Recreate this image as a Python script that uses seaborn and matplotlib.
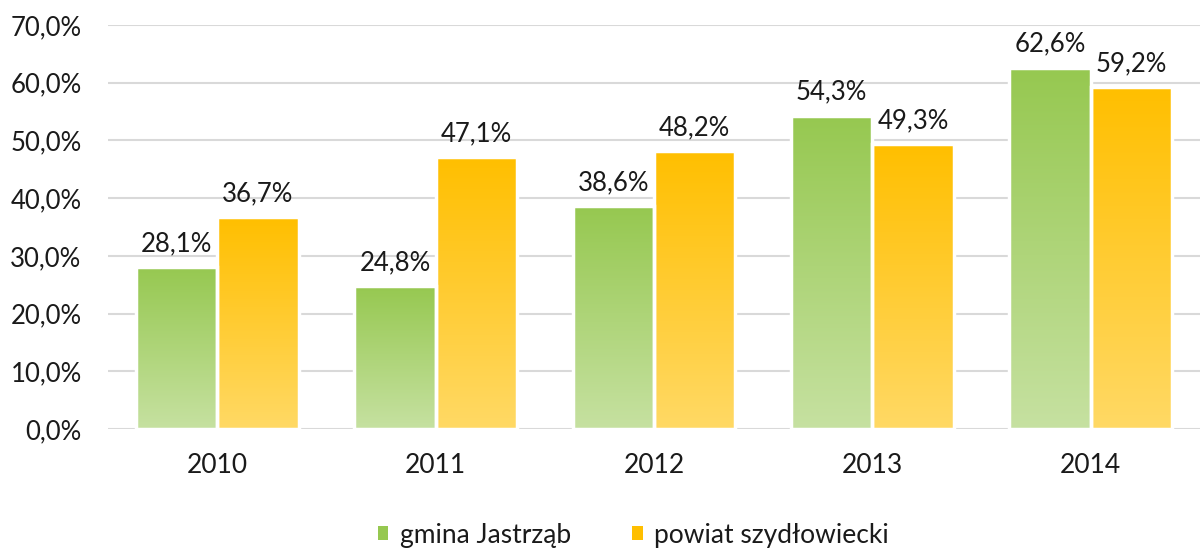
import numpy as np
import pandas as pd
import matplotlib
matplotlib.use("Agg")
import matplotlib.pyplot as plt
import seaborn as sns
from matplotlib.colors import LinearSegmentedColormap
from matplotlib.patches import Patch

years = ["2010", "2011", "2012", "2013", "2014"]
gmina = [28.1, 24.8, 38.6, 54.3, 62.6]
powiat = [36.7, 47.1, 48.2, 49.3, 59.2]
series_names = ["gmina Jastrząb", "powiat szydłowiecki"]
yticks = [0, 10, 20, 30, 40, 50, 60, 70]

df = pd.DataFrame({
    "year": years * 2,
    "value": gmina + powiat,
    "series": [series_names[0]] * len(years) + [series_names[1]] * len(years),
})

sns.set_theme(style="white")
plt.rcParams["font.family"] = ["Lato", "DejaVu Sans"]

fig = plt.figure(figsize=(12.02, 5.5), dpi=100)
ax = fig.add_axes([108 / 1202, 1 - 429 / 550, (1200 - 108) / 1202, (429 - 25) / 550])

top_cols = {series_names[0]: "#96C850", series_names[1]: "#FFBF00"}
bot_cols = {series_names[0]: "#C6E1A1", series_names[1]: "#FFD965"}
txt = "#1a1a1a"

sns.barplot(data=df, x="year", y="value", hue="series", hue_order=series_names,
            palette=top_cols, width=0.745, edgecolor="white", linewidth=2.5,
            ax=ax, legend=False, zorder=2)

ax.set_ylim(0, 70)
ax.set_yticks(yticks)
ax.set_yticklabels([f"{v:.1f}".replace(".", ",") + "%" for v in yticks], fontsize=18.5, color=txt)
ax.tick_params(axis="x", labelsize=19, colors=txt, length=0, pad=17)
ax.tick_params(axis="y", length=0, pad=19)
ax.set_xlabel("")
ax.set_ylabel("")
ax.yaxis.grid(True, color="#D9D9D9", linewidth=1.5, zorder=0)
ax.set_axisbelow(True)
for s in ax.spines.values():
    s.set_visible(False)

# gradient fills clipped to bars
grad = np.linspace(0, 1, 256).reshape(-1, 1)
n = len(years)
for i, name in enumerate(series_names):
    cmap = LinearSegmentedColormap.from_list(name, [bot_cols[name], top_cols[name]])
    vals = gmina if i == 0 else powiat
    for j, p in enumerate(ax.patches[i * n:(i + 1) * n]):
        x0, w = p.get_x(), p.get_width()
        h = p.get_height()
        im = ax.imshow(grad, extent=[x0, x0 + w, 0, h], origin="lower", cmap=cmap,
                       aspect="auto", zorder=2.5)
        im.set_clip_path(p)
        ax.text(x0 + w / 2, h + 1.9, f"{vals[j]:.1f}".replace(".", ",") + "%",
                ha="center", va="bottom", fontsize=18.5, color=txt, zorder=4)
        p.set_zorder(3)
        p.set_facecolor("none")

ax.set_xlim(-0.5, n - 0.5)
ax.set_ylim(0, 70)

handles = [Patch(facecolor=top_cols[s], edgecolor="none") for s in series_names]
fig.legend(handles, series_names, loc="lower center", bbox_to_anchor=(0.527, -0.022), ncol=2,
           frameon=False, fontsize=19, handlelength=0.4, handleheight=0.4,
           handletextpad=0.45, columnspacing=2.3, labelcolor=txt, borderpad=0.05)

fig.savefig("out.png", dpi=100)
